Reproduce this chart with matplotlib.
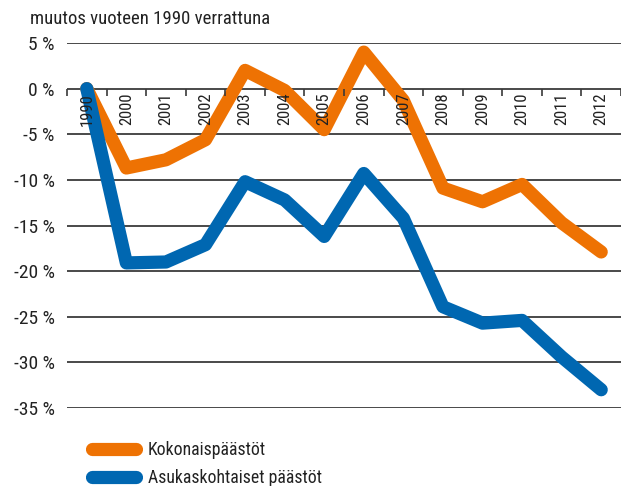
import matplotlib.pyplot as plt
from matplotlib import font_manager
from matplotlib.ticker import FixedLocator
import numpy as np

# condensed font if we have one
have = set(f.name for f in font_manager.fontManager.ttflist)
font = 'DejaVu Sans'
for cand in ['Roboto Condensed', 'Archivo Narrow', 'Liberation Sans Narrow',
             'Asap Condensed', 'Barlow Semi Condensed']:
    if cand in have:
        font = cand
        break
plt.rcParams['font.family'] = [font, 'DejaVu Sans']

years = ['1990', '2000', '2001', '2002', '2003', '2004', '2005', '2006',
         '2007', '2008', '2009', '2010', '2011', '2012']
kokonais = [0, -8.7, -7.8, -5.6, 2.0, -0.2, -4.5, 4.0, -1.3, -10.9, -12.4,
            -10.5, -14.7, -17.9]
asukas = [0, -19.1, -19.0, -17.1, -10.2, -12.2, -16.2, -9.3, -14.2, -23.9,
          -25.7, -25.4, -29.4, -33.0]
yticks = [5, 0, -5, -10, -15, -20, -25, -30, -35]

orange = '#ee7203'
blue = '#0067b1'

fig = plt.figure(figsize=(6.21, 4.86), dpi=100)
W, H = 621, 486
ax = fig.add_axes([67 / W, (H - 408) / H, (W - 67) / W, (408 - 43) / H])
ax.set_axisbelow(False)  # year labels over the lines, like the original

x = np.arange(len(years))
for v in yticks:
    ax.axhline(v, color='#3a3a3a', lw=1.3, zorder=1)

l1, = ax.plot(x, kokonais, color=orange, lw=9.5, solid_capstyle='round',
              solid_joinstyle='round', zorder=2, label='Kokonaispäästöt')
l2, = ax.plot(x, asukas, color=blue, lw=9.5, solid_capstyle='round',
              solid_joinstyle='round', zorder=2, label='Asukaskohtaiset päästöt')

ax.set_xlim(-0.5, len(years) - 0.5)
ax.set_ylim(-35, 5)
for s in ax.spines.values():
    s.set_visible(False)
ax.spines['bottom'].set_position(('data', 0))

ax.set_xticks(x)
ax.set_xticklabels(years, rotation=90, fontsize=12, va='top', color='#222222')
ax.xaxis.set_minor_locator(FixedLocator(np.arange(-0.5, len(years), 1)))
ax.tick_params(axis='x', which='major', length=0, pad=3)
ax.tick_params(axis='x', which='minor', length=5, width=1.2, color='#3a3a3a')

ax.set_yticks(yticks)
ax.set_yticklabels([f'{v} %' for v in yticks], fontsize=14)
ax.tick_params(axis='y', length=0, pad=9, colors='#222222')

fig.text(30 / W, 1 - 19 / H, 'muutos vuoteen 1990 verrattuna', fontsize=13.5,
         va='center', ha='left', color='#222222')

leg = fig.legend(handles=[l1, l2], loc='upper left',
                 bbox_to_anchor=(76 / W, 1 - 425 / H), frameon=False,
                 fontsize=12.8, handlelength=2.5, handletextpad=0.65,
                 labelspacing=0.55)
for ln in leg.get_lines():
    ln.set_solid_capstyle('round')
for t in leg.get_texts():
    t.set_color('#222222')

fig.savefig('out.png', dpi=100)
